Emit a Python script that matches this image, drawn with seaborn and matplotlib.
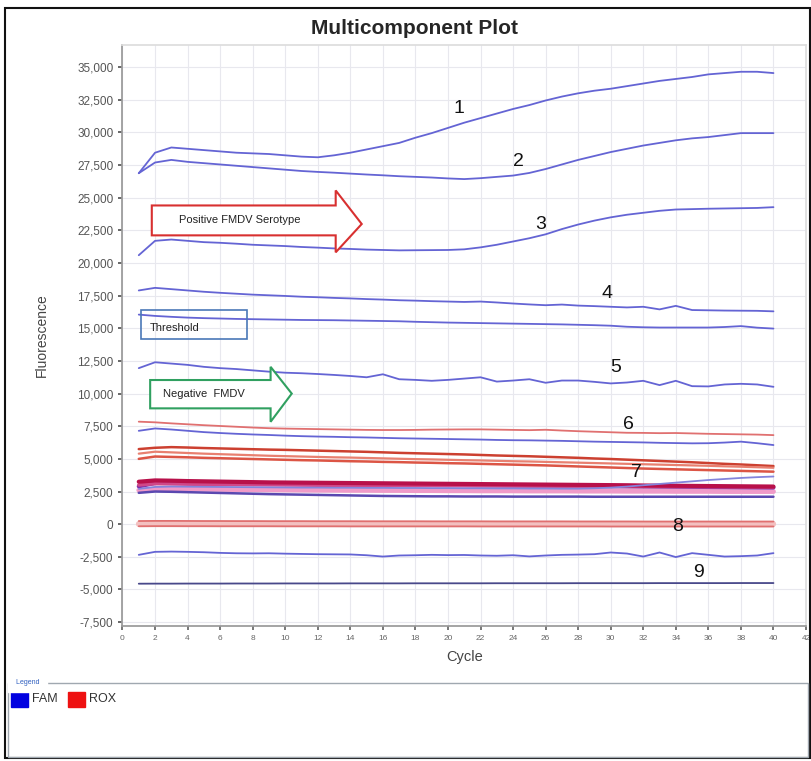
import matplotlib
matplotlib.use("Agg")
import matplotlib.pyplot as plt
import seaborn as sns
import pandas as pd
import numpy as np
from matplotlib.patches import Polygon, Rectangle
from matplotlib.ticker import FuncFormatter, MultipleLocator

cycles = list(range(1, 41))

c1 = [26880, 28450, 28850, 28750, 28650, 28550, 28450, 28400, 28350, 28250,
      28150, 28100, 28250, 28450, 28700, 28950, 29200, 29600, 29950, 30350,
      30750, 31100, 31450, 31800, 32100, 32450, 32750, 33000, 33200, 33350,
      33550, 33750, 33950, 34100, 34250, 34450, 34550, 34650, 34650, 34550]
c2 = [26880, 27700, 27900, 27750, 27650, 27550, 27450, 27350, 27250, 27150,
      27050, 26980, 26920, 26850, 26780, 26720, 26650, 26600, 26550, 26480,
      26430, 26500, 26600, 26700, 26900, 27200, 27550, 27900, 28200, 28500,
      28750, 29000, 29200, 29400, 29550, 29650, 29800, 29950, 29950, 29950]
c3 = [20600, 21700, 21800, 21700, 21600, 21550, 21480, 21400, 21350, 21300,
      21230, 21180, 21120, 21080, 21030, 21000, 20970, 20980, 20990, 21000,
      21050, 21200, 21400, 21650, 21900, 22200, 22600, 22950, 23250, 23500,
      23700, 23850, 24000, 24100, 24130, 24160, 24180, 24200, 24220, 24280]
c4 = [17900, 18100, 18000, 17900, 17800, 17720, 17650, 17580, 17530, 17480,
      17420, 17380, 17330, 17290, 17240, 17200, 17150, 17120, 17080, 17050,
      17020, 17050, 16980, 16900, 16830, 16770, 16820, 16740, 16700, 16650,
      16600, 16650, 16450, 16720, 16400, 16380, 16360, 16350, 16340, 16300]
c_thr = [16050, 15950, 15880, 15820, 15780, 15750, 15720, 15700, 15680, 15660,
         15640, 15630, 15620, 15600, 15580, 15560, 15540, 15500, 15470, 15440,
         15420, 15400, 15380, 15360, 15340, 15320, 15300, 15270, 15240, 15200,
         15120, 15080, 15060, 15060, 15060, 15060, 15100, 15170, 15050, 14980]
c5 = [11950, 12400, 12300, 12200, 12050, 11950, 11880, 11780, 11680, 11600,
      11560, 11500, 11430, 11350, 11250, 11480, 11100, 11050, 10980, 11050,
      11150, 11250, 10920, 11000, 11100, 10830, 11000, 11000, 10900, 10780,
      10850, 10980, 10650, 10980, 10570, 10550, 10700, 10750, 10700, 10520]
r6 = [7850, 7800, 7720, 7650, 7580, 7520, 7460, 7400, 7350, 7320,
      7300, 7280, 7260, 7240, 7220, 7210, 7210, 7220, 7240, 7250,
      7260, 7260, 7240, 7220, 7200, 7230, 7170, 7120, 7080, 7040,
      7000, 6990, 6970, 6980, 6950, 6920, 6900, 6880, 6860, 6820]
c6 = [7150, 7330, 7250, 7150, 7050, 6980, 6920, 6870, 6830, 6780,
      6740, 6710, 6690, 6660, 6640, 6610, 6580, 6560, 6540, 6520,
      6500, 6480, 6450, 6430, 6420, 6400, 6380, 6350, 6320, 6300,
      6280, 6260, 6230, 6210, 6190, 6200, 6250, 6320, 6200, 6060]
r_a = [5750, 5850, 5900, 5870, 5830, 5800, 5770, 5740, 5710, 5690,
       5660, 5630, 5600, 5570, 5540, 5500, 5460, 5430, 5400, 5370,
       5340, 5300, 5260, 5230, 5200, 5160, 5120, 5080, 5030, 4990,
       4940, 4890, 4840, 4790, 4740, 4680, 4620, 4570, 4510, 4450]
r_b = [5400, 5550, 5500, 5450, 5400, 5360, 5320, 5280, 5240, 5210,
       5180, 5150, 5120, 5100, 5070, 5040, 5010, 4980, 4960, 4930,
       4900, 4880, 4850, 4820, 4800, 4770, 4740, 4710, 4680, 4650,
       4620, 4590, 4560, 4530, 4500, 4470, 4430, 4400, 4360, 4320]
r_c = [5000, 5180, 5150, 5120, 5080, 5050, 5020, 4990, 4960, 4930,
       4900, 4880, 4850, 4820, 4800, 4770, 4750, 4720, 4700, 4670,
       4650, 4620, 4590, 4560, 4530, 4500, 4460, 4420, 4380, 4340,
       4300, 4260, 4230, 4200, 4170, 4140, 4110, 4080, 4050, 4020]
f7a = [2900, 3150, 3200, 3200, 3180, 3170, 3150, 3140, 3120, 3110,
       3100, 3090, 3080, 3070, 3060, 3050, 3040, 3030, 3020, 3010,
       3000, 2990, 2980, 2970, 2960, 2950, 2940, 2930, 2920, 2910,
       2900, 2890, 2880, 2870, 2860, 2850, 2840, 2830, 2820, 2810]
f7b = [2700, 2850, 2880, 2870, 2860, 2850, 2840, 2830, 2820, 2810,
       2800, 2800, 2790, 2790, 2780, 2780, 2770, 2770, 2760, 2760,
       2750, 2750, 2740, 2740, 2730, 2730, 2720, 2720, 2750, 2800,
       2880, 2980, 3080, 3180, 3280, 3380, 3460, 3540, 3600, 3650]
f7c = [2400, 2500, 2480, 2450, 2420, 2390, 2360, 2330, 2300, 2280,
       2260, 2240, 2220, 2200, 2180, 2160, 2150, 2140, 2130, 2130,
       2120, 2120, 2120, 2110, 2110, 2110, 2110, 2110, 2100, 2100,
       2100, 2100, 2100, 2100, 2100, 2100, 2100, 2100, 2100, 2100]
r7a = [3250, 3350, 3330, 3300, 3280, 3260, 3240, 3220, 3200, 3190,
       3180, 3170, 3160, 3150, 3140, 3130, 3120, 3110, 3100, 3090,
       3080, 3070, 3060, 3050, 3040, 3030, 3020, 3010, 3000, 2990,
       2980, 2960, 2950, 2940, 2930, 2920, 2910, 2900, 2890, 2880]
r7b = [2600, 2700, 2690, 2680, 2670, 2660, 2650, 2640, 2630, 2620,
       2610, 2600, 2600, 2590, 2590, 2580, 2580, 2570, 2570, 2560,
       2560, 2550, 2550, 2550, 2540, 2540, 2540, 2530, 2530, 2530,
       2520, 2520, 2520, 2510, 2510, 2510, 2500, 2500, 2500, 2500]
r7c = [3000, 3100, 3080, 3060, 3050, 3040, 3030, 3020, 3010, 3000,
       2990, 2980, 2980, 2970, 2970, 2960, 2960, 2950, 2950, 2940,
       2940, 2930, 2930, 2920, 2920, 2910, 2910, 2900, 2900, 2890,
       2890, 2880, 2880, 2870, 2870, 2860, 2860, 2850, 2850, 2840]
r8band = [40] * 40
r8a = [240, 250, 250, 245, 240, 240, 235, 235, 230, 230,
       230, 225, 225, 225, 220, 220, 220, 220, 215, 215,
       215, 215, 210, 210, 210, 210, 210, 205, 205, 205,
       205, 200, 200, 200, 200, 200, 200, 200, 200, 200]
r8b = [-160, -150, -150, -155, -155, -160, -160, -160, -160, -165,
       -165, -165, -165, -170, -170, -170, -170, -170, -170, -170,
       -170, -175, -175, -175, -175, -175, -175, -175, -175, -180,
       -180, -180, -180, -180, -180, -180, -180, -180, -180, -180]
c9a = [-2350, -2120, -2100, -2120, -2150, -2200, -2230, -2240, -2230, -2260,
       -2280, -2300, -2310, -2320, -2380, -2480, -2400, -2380, -2350, -2370,
       -2360, -2400, -2420, -2380, -2470, -2400, -2350, -2330, -2300, -2170,
       -2250, -2480, -2170, -2520, -2220, -2350, -2480, -2450, -2400, -2220]
c9b = [-4560, -4555, -4555, -4550, -4550, -4550, -4545, -4545, -4545, -4540,
       -4540, -4540, -4540, -4535, -4535, -4535, -4535, -4530, -4530, -4530,
       -4530, -4530, -4525, -4525, -4525, -4525, -4525, -4520, -4520, -4520,
       -4520, -4520, -4515, -4515, -4515, -4515, -4515, -4510, -4510, -4510]

series = {
    "F1": c1, "F2": c2, "F3": c3, "F4": c4, "Fthr": c_thr, "F5": c5,
    "R6": r6, "F6": c6, "Ra": r_a, "Rb": r_b, "Rc": r_c,
    "R7b": r7b, "F7c": f7c, "F7a": f7a, "R7c": r7c, "R7a": r7a, "F7b": f7b,
    "R8band": r8band, "R8a": r8a, "R8b": r8b, "F9a": c9a, "F9b": c9b,
}
blue = "#6464d4"
colors = {
    "F1": blue, "F2": blue, "F3": blue, "F4": blue, "Fthr": blue, "F5": blue,
    "R6": "#e07070", "F6": blue, "Ra": "#cc4030", "Rb": "#e88070", "Rc": "#dc5545",
    "F7a": "#7a2aa8", "R7a": "#b8104a", "R7c": "#d04888", "F7b": "#8484dc",
    "R7b": "#f09ac8", "F7c": "#5a48b0",
    "R8band": "#f3c0c0", "R8a": "#e07070", "R8b": "#e07070",
    "F9a": blue, "F9b": "#48488a",
}
widths = {k: 1.3 for k in series}
widths.update({"R8band": 4.5, "Ra": 1.8, "Rb": 1.6, "Rc": 1.8,
               "R7a": 3.0, "F7a": 3.0, "R7b": 3.5, "R7c": 2.5, "F7c": 1.8})

rows = []
for name, vals in series.items():
    for c, v in zip(cycles, vals):
        rows.append((name, c, v))
df = pd.DataFrame(rows, columns=["series", "cycle", "value"])

label_text = ["1", "2", "3", "4", "5", "6", "7", "8", "9"]
label_x = [20.7, 24.35, 25.7, 29.8, 30.3, 31.1, 31.6, 34.1, 35.4]
label_y = [31830, 27790, 22990, 17680, 12030, 7670, 3920, -190, -3720]

sns.set_theme(style="white")
plt.rcParams["font.family"] = ["Liberation Sans", "DejaVu Sans"]

W, H = 812, 761
fig = plt.figure(figsize=(W / 100, H / 100), dpi=100)
ax = fig.add_axes([122.5 / W, 1 - 626 / H, (806 - 122.5) / W, (626 - 45) / H])

for name in series:
    sub = df[df["series"] == name]
    sns.lineplot(data=sub, x="cycle", y="value", ax=ax, color=colors[name],
                 linewidth=widths[name], legend=False, estimator=None)

ax.set_xlim(0, 42)
ax.set_ylim(-7800, 36700)
ax.xaxis.set_major_locator(MultipleLocator(2))
ax.yaxis.set_major_locator(MultipleLocator(2500))
ax.yaxis.set_major_formatter(FuncFormatter(lambda v, p: f"{int(round(v)):,}"))
ax.grid(True, color="#e8e8ee", linewidth=0.8)
ax.set_axisbelow(True)
ax.tick_params(axis="y", labelsize=8.5, colors="#555555", length=3, direction="out", left=True)
ax.tick_params(axis="x", labelsize=6, colors="#666666", length=3, direction="out", bottom=True)
for s in ["left", "bottom"]:
    ax.spines[s].set_color("#999999")
for s in ["top", "right"]:
    ax.spines[s].set_color("#dddddd")
ax.set_xlabel("Cycle", fontsize=10.5, color="#444444", labelpad=6)
ax.set_ylabel("Fluorescence", fontsize=10, color="#444444", labelpad=20)

for t, x, y in zip(label_text, label_x, label_y):
    ax.text(x, y, t, fontsize=14, color="#111111", ha="center", va="center")

# Positive arrow
pos_arrow = [(1.8, 24410), (13.1, 24410), (13.1, 25560), (14.7, 22990),
             (13.1, 20820), (13.1, 22120), (1.8, 22120)]
ax.add_patch(Polygon(pos_arrow, closed=True, facecolor="white",
                     edgecolor="#d83030", linewidth=1.5, zorder=5))
ax.text(7.2, 23300, "Positive FMDV Serotype", fontsize=8, ha="center", va="center",
        color="#222222", zorder=6)

# Negative arrow
neg_arrow = [(1.7, 11040), (9.1, 11040), (9.1, 12050), (10.4, 10000),
             (9.1, 7840), (9.1, 8870), (1.7, 8870)]
ax.add_patch(Polygon(neg_arrow, closed=True, facecolor="white",
                     edgecolor="#30a060", linewidth=1.5, zorder=5))
ax.text(5.0, 9950, "Negative  FMDV", fontsize=8, ha="center", va="center",
        color="#222222", zorder=6)

# Threshold box
ax.add_patch(Rectangle((1.15, 14150), 6.5, 2230, facecolor="none",
                       edgecolor="#4a78b8", linewidth=1.2, zorder=5))
ax.text(1.7, 15050, "Threshold", fontsize=8, ha="left", va="center",
        color="#222222", zorder=6)

fig.suptitle("Multicomponent Plot", x=415 / W, y=1 - 28 / H, fontsize=15,
             fontweight="bold", va="center")

# Outer frame
fig.patches.append(Rectangle((5 / W, 1 - 758 / H), 805 / W, 750 / H,
                             transform=fig.transFigure, fill=False,
                             edgecolor="#111111", linewidth=1.5))
# Legend box
fig.patches.append(Rectangle((8 / W, 1 - 757 / H), 800 / W, 74 / H,
                             transform=fig.transFigure, fill=False,
                             edgecolor="#a0a8b0", linewidth=1.0))
fig.text(14 / W, 1 - 683 / H, " Legend ", fontsize=5, color="#3060c0",
         va="center", ha="left", backgroundcolor="white")
fig.patches.append(Rectangle((11 / W, 1 - 707 / H), 17 / W, 15 / H,
                             transform=fig.transFigure, color="#0000e0"))
fig.text(32 / W, 1 - 699 / H, "FAM", fontsize=9, color="#333333", va="center")
fig.patches.append(Rectangle((68 / W, 1 - 707 / H), 17 / W, 15 / H,
                             transform=fig.transFigure, color="#ee1111"))
fig.text(89 / W, 1 - 699 / H, "ROX", fontsize=9, color="#333333", va="center")

fig.savefig("out.png", dpi=100, facecolor="white")
